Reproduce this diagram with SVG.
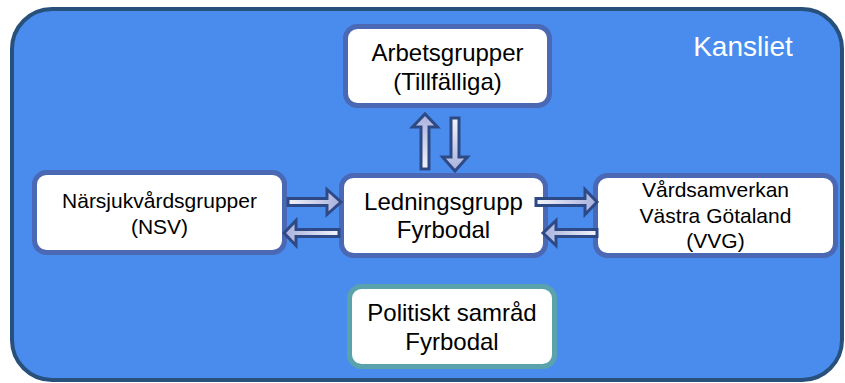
<svg xmlns="http://www.w3.org/2000/svg" width="845" height="383" viewBox="0 0 845 383">
<defs>
<linearGradient id="gR" x1="0" y1="0" x2="1" y2="0"><stop offset="0" stop-color="#f2f4fb"/><stop offset="1" stop-color="#a8b0dc"/></linearGradient>
<linearGradient id="gL" x1="1" y1="0" x2="0" y2="0"><stop offset="0" stop-color="#f2f4fb"/><stop offset="1" stop-color="#a8b0dc"/></linearGradient>
<linearGradient id="gU" x1="0" y1="1" x2="0" y2="0"><stop offset="0" stop-color="#f2f4fb"/><stop offset="1" stop-color="#a8b0dc"/></linearGradient>
<linearGradient id="gD" x1="0" y1="0" x2="0" y2="1"><stop offset="0" stop-color="#f2f4fb"/><stop offset="1" stop-color="#a8b0dc"/></linearGradient>
</defs>
<style>
.box{fill:#ffffff;stroke:#4a68b4;stroke-width:5}
.pol{fill:#ffffff;stroke:#5ba3ac;stroke-width:5}
.t{font-family:"Liberation Sans",Arial,sans-serif;fill:#000000;text-anchor:middle}
.arr{stroke:#2e4a86;stroke-width:3;stroke-linejoin:miter}
</style>
<g id="kansliet">
<rect x="12" y="9" width="830" height="371" rx="40" ry="40" fill="#4a8cee" stroke="#27507a" stroke-width="4"/>
<text class="t" x="743" y="56" font-size="28" style="fill:#ffffff">Kansliet</text>
</g>
<g id="arbetsgrupper">
<rect class="box" x="345.5" y="26.5" width="204" height="79" rx="12"/>
<text class="t" font-size="24"><tspan x="447.5" y="61">Arbetsgrupper</tspan><tspan x="447.5" y="90">(Tillfälliga)</tspan></text>
</g>
<g id="narsjukvard">
<rect class="box" x="34.5" y="172.5" width="250" height="80" rx="12"/>
<text class="t" font-size="21"><tspan x="159.5" y="208">Närsjukvårdsgrupper</tspan><tspan x="159.5" y="234">(NSV)</tspan></text>
</g>
<g id="ledningsgrupp">
<rect class="box" x="341.5" y="175.5" width="204" height="80" rx="12"/>
<text class="t" font-size="24"><tspan x="443.5" y="210">Ledningsgrupp</tspan><tspan x="443.5" y="238">Fyrbodal</tspan></text>
</g>
<g id="vvg">
<rect class="box" x="595.5" y="175.5" width="240" height="80" rx="12"/>
<text class="t" font-size="21"><tspan x="715.5" y="197">Vårdsamverkan</tspan><tspan x="715.5" y="223">Västra Götaland</tspan><tspan x="715.5" y="248">(VVG)</tspan></text>
</g>
<g id="politiskt">
<rect class="pol" x="349.5" y="286.5" width="205" height="80" rx="12"/>
<text class="t" font-size="24"><tspan x="452" y="321">Politiskt samråd</tspan><tspan x="452" y="350">Fyrbodal</tspan></text>
</g>
<g id="connectors">
<path class="arr" fill="url(#gU)" d="M421,169 L421,127 L412.5,127 L425,114 L437.5,127 L429,127 L429,169 Z"/>
<path class="arr" fill="url(#gD)" d="M451,118 L451,157 L442.5,157 L455,171 L467.5,157 L459,157 L459,118 Z"/>
<path class="arr" fill="url(#gR)" d="M288,198.5 L327,198.5 L327,189.5 L341,202 L327,214.5 L327,205.5 L288,205.5 Z"/>
<path class="arr" fill="url(#gL)" d="M339,229.5 L296,229.5 L296,220.5 L284,233 L296,245.5 L296,236.5 L339,236.5 Z"/>
<path class="arr" fill="url(#gR)" d="M536,198.5 L585,198.5 L585,189.5 L597,202 L585,214.5 L585,205.5 L536,205.5 Z"/>
<path class="arr" fill="url(#gL)" d="M597,229.5 L556,229.5 L556,220.5 L543,233 L556,245.5 L556,236.5 L597,236.5 Z"/>
</g>
</svg>
